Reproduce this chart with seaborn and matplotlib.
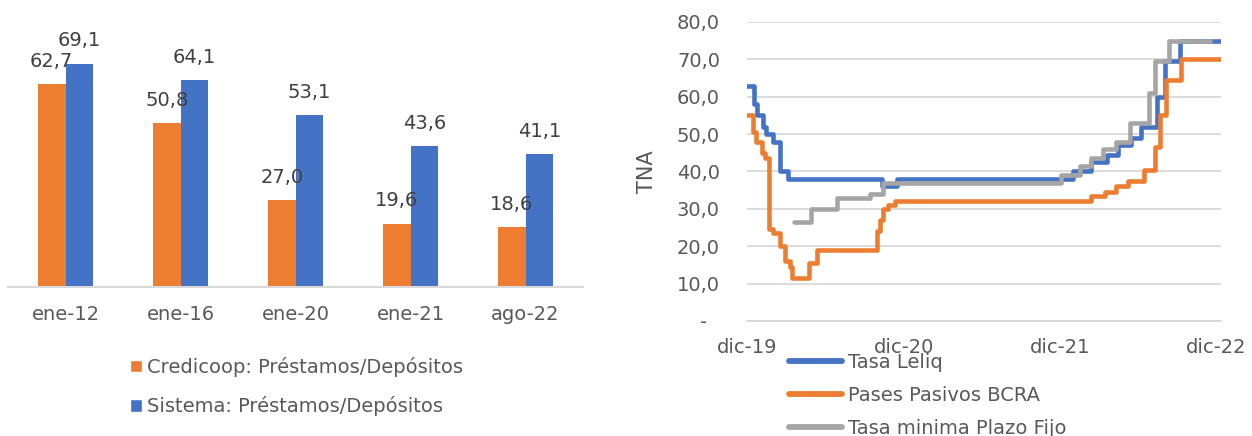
import matplotlib
matplotlib.use("Agg")
import matplotlib.pyplot as plt
import matplotlib.dates as mdates
from matplotlib.patches import Patch
from matplotlib.lines import Line2D
import seaborn as sns
import pandas as pd

# ---------------- data ----------------
categories = ["ene-12", "ene-16", "ene-20", "ene-21", "ago-22"]
bar_series = ["Credicoop: Préstamos/Depósitos", "Sistema: Préstamos/Depósitos"]
credicoop = [62.7, 50.8, 27.0, 19.6, 18.6]
sistema = [69.1, 64.1, 53.1, 43.6, 41.1]

line_series = ["Tasa Leliq", "Pases Pasivos BCRA", "Tasa minima Plazo Fijo"]
leliq_dates = ["2019-12-01", "2019-12-17", "2019-12-25", "2020-01-07", "2020-01-14",
               "2020-01-31", "2020-02-16", "2020-03-06", "2020-10-11", "2020-11-15",
               "2022-01-01", "2022-02-13", "2022-03-21", "2022-04-16", "2022-05-17",
               "2022-06-10", "2022-07-16", "2022-08-05", "2022-09-07", "2022-12-14"]
leliq_vals = [63, 58, 55, 52, 50, 48, 40, 38, 36, 38,
              40, 42.5, 44.5, 47, 49, 52, 60, 69.5, 75, 75]
pases_dates = ["2019-12-01", "2019-12-15", "2019-12-22", "2020-01-04", "2020-01-12",
               "2020-01-22", "2020-01-31", "2020-02-16", "2020-02-28", "2020-03-10",
               "2020-03-15", "2020-04-24", "2020-05-13", "2020-09-29", "2020-10-07",
               "2020-10-14", "2020-10-26", "2020-11-11", "2022-02-13", "2022-03-18",
               "2022-04-12", "2022-05-09", "2022-06-15", "2022-07-11", "2022-07-23",
               "2022-08-07", "2022-09-11", "2022-12-14"]
pases_vals = [55, 50.5, 48, 45, 43.5, 24.5, 23.5, 20, 16, 14.5,
              11.5, 15.5, 19, 24, 27, 30, 31, 32, 33.5, 34.5,
              36, 37.5, 40.5, 46.5, 55, 64.5, 70, 70]
plazo_dates = ["2020-03-20", "2020-04-28", "2020-06-29", "2020-09-13", "2020-10-14",
               "2021-12-03", "2022-01-18", "2022-02-13", "2022-03-11", "2022-04-11",
               "2022-05-14", "2022-06-28", "2022-07-11", "2022-08-13", "2022-11-17"]
plazo_vals = [26.6, 30, 33, 34, 37, 39, 41.5, 43.5, 46, 48, 53, 61, 69.5, 75, 75]

y_ticks = [0, 10, 20, 30, 40, 50, 60, 70, 80]
x_tick_dates = ["2019-12-01", "2020-12-01", "2021-12-01", "2022-12-01"]
x_tick_labels = ["dic-19", "dic-20", "dic-21", "dic-22"]

# ---------------- style ----------------
ORANGE = "#ED7D31"
BLUE = "#4472C4"
GRAY = "#A5A5A5"
GRID = "#D9D9D9"
TXT = "#595959"

sns.set_style("white")
plt.rcParams["font.family"] = ["DejaVu Sans"]

W, H = 1252, 436
fig = plt.figure(figsize=(W / 100, H / 100), dpi=100)


def rect(x0, y0, x1, y1):
    return [x0 / W, 1 - y1 / H, (x1 - x0) / W, (y1 - y0) / H]


def fmt(v):
    return f"{v:.1f}".replace(".", ",")


# ---------------- left: bars ----------------
ax1 = fig.add_axes(rect(8, 20, 583, 287))
df_bar = pd.DataFrame({
    "cat": categories * 2,
    "val": credicoop + sistema,
    "serie": [bar_series[0]] * len(categories) + [bar_series[1]] * len(categories),
})
sns.barplot(data=df_bar, x="cat", y="val", hue="serie", order=categories,
            hue_order=bar_series, palette=[ORANGE, BLUE], width=0.48,
            saturation=1, linewidth=0, legend=False, ax=ax1)
ax1.set_xlim(-0.5, 4.5)
ax1.set_ylim(0, 82.6)
for c in ax1.containers:
    ax1.bar_label(c, labels=[fmt(v) for v in c.datavalues], padding=9.5,
                  fontsize=14, color="#404040")
for s in ["top", "right", "left"]:
    ax1.spines[s].set_visible(False)
ax1.spines["bottom"].set_color(GRID)
ax1.spines["bottom"].set_linewidth(1.5)
ax1.set_yticks([])
ax1.set_xlabel("")
ax1.set_ylabel("")
ax1.tick_params(axis="x", length=0, pad=13, labelsize=14, labelcolor=TXT)

fig.legend([Patch(facecolor=ORANGE), Patch(facecolor=BLUE)], bar_series,
           loc="upper left", bbox_to_anchor=(130 / W, 1 - 357 / H),
           frameon=False, fontsize=14, handlelength=0.6, handleheight=0.6,
           handletextpad=0.27, labelspacing=1.0, borderpad=0, borderaxespad=0,
           labelcolor=TXT)

# ---------------- right: step lines ----------------
ax2 = fig.add_axes(rect(747, 22, 1221, 321))
df_line = pd.concat([
    pd.DataFrame({"fecha": pd.to_datetime(leliq_dates), "tasa": leliq_vals, "serie": line_series[0]}),
    pd.DataFrame({"fecha": pd.to_datetime(pases_dates), "tasa": pases_vals, "serie": line_series[1]}),
    pd.DataFrame({"fecha": pd.to_datetime(plazo_dates), "tasa": plazo_vals, "serie": line_series[2]}),
], ignore_index=True)
sns.lineplot(data=df_line, x="fecha", y="tasa", hue="serie", hue_order=line_series,
             palette=[BLUE, ORANGE, GRAY], drawstyle="steps-post", linewidth=3.3,
             estimator=None, sort=False, legend=False, ax=ax2)
ax2.set_ylim(0, 80)
ax2.set_yticks(y_ticks)
ax2.set_yticklabels(["-  "] + [fmt(v) for v in y_ticks[1:]])
ax2.set_xlim(mdates.date2num(pd.Timestamp("2019-12-01")),
             mdates.date2num(pd.Timestamp("2022-12-13")))
ax2.set_xticks([mdates.date2num(pd.Timestamp(d)) for d in x_tick_dates])
ax2.set_xticklabels(x_tick_labels)
ax2.grid(axis="y", color=GRID, linewidth=1.3)
ax2.grid(axis="x", visible=False)
ax2.set_axisbelow(True)
for s in ["top", "right", "left"]:
    ax2.spines[s].set_visible(False)
ax2.spines["bottom"].set_color(GRID)
ax2.spines["bottom"].set_linewidth(1.3)
ax2.tick_params(axis="x", length=5, width=1.3, color=GRID, pad=7,
                labelsize=14, labelcolor=TXT)
ax2.tick_params(axis="y", length=0, pad=19.5, labelsize=14, labelcolor=TXT)
ax2.set_xlabel("")
ax2.set_ylabel("TNA", fontsize=15, color=TXT)
ax2.yaxis.set_label_coords(-0.19, 0.5)

fig.legend([Line2D([0], [0], color=c, lw=4.2, solid_capstyle="round") for c in [BLUE, ORANGE, GRAY]],
           line_series, loc="upper left", bbox_to_anchor=(789 / W, 1 - 353 / H),
           frameon=False, fontsize=14, handlelength=2.73, handletextpad=0.3,
           labelspacing=0.72, borderpad=0, borderaxespad=0, labelcolor=TXT)

fig.savefig("out.png", dpi=100)
